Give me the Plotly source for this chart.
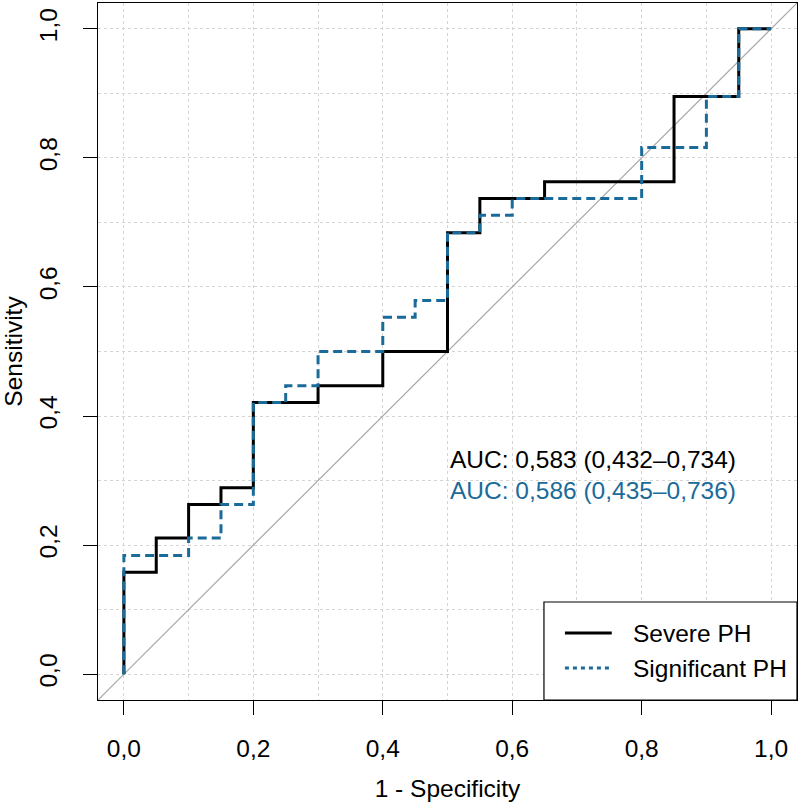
import plotly.graph_objects as go

# ROC step curves: (1 - specificity, sensitivity) corner points
severe_fpr = [0.00, 0.00, 0.05, 0.10, 0.15, 0.20, 0.30, 0.40, 0.50, 0.55, 0.65, 0.85, 0.95, 1.00]
severe_tpr = [0.000, 0.158, 0.211, 0.263, 0.289, 0.421, 0.447, 0.500, 0.684, 0.737, 0.763, 0.895, 1.000, 1.000]

signif_fpr = [0.00, 0.00, 0.10, 0.15, 0.20, 0.25, 0.30, 0.40, 0.45, 0.50, 0.55, 0.60, 0.80, 0.90, 0.95, 1.00]
signif_tpr = [0.000, 0.184, 0.211, 0.263, 0.421, 0.447, 0.500, 0.553, 0.579, 0.684, 0.711, 0.737, 0.816, 0.895, 1.000, 1.000]

diag = [-0.04, 1.04]

series_names = ["Severe PH", "Significant PH"]
auc_labels = ["AUC: 0,583 (0,432–0,734)", "AUC: 0,586 (0,435–0,736)"]

BLACK = "#000000"
BLUE = "#1B6B9A"
FONT = "Liberation Sans, Arial, sans-serif"
FS = 24.5

fig = go.Figure()

fig.add_trace(go.Scatter(x=diag, y=diag, mode="lines",
                         line=dict(color="#A8A8A8", width=1.2), hoverinfo="skip"))
fig.add_trace(go.Scatter(x=severe_fpr, y=severe_tpr, mode="lines", name=series_names[0],
                         line=dict(color=BLACK, width=3, shape="hv")))
fig.add_trace(go.Scatter(x=signif_fpr, y=signif_tpr, mode="lines", name=series_names[1],
                         line=dict(color=BLUE, width=3, shape="hv", dash="9px,5px")))

# AUC text
fig.add_annotation(x=0.5, y=0.333, text=auc_labels[0], showarrow=False, xanchor="left",
                   font=dict(size=FS, color=BLACK, family=FONT))
fig.add_annotation(x=0.5, y=0.285, text=auc_labels[1], showarrow=False, xanchor="left",
                   font=dict(size=FS, color=BLUE, family=FONT))

# hand-drawn legend box in the bottom-right corner (R style)
fig.add_shape(type="rect", xref="paper", yref="paper", x0=0.638, x1=1.0, y0=0.0, y1=0.1406,
              line=dict(color="black", width=1.2), fillcolor="white", layer="above")
for yy, col, dash, name in [(0.0961, BLACK, "solid", series_names[0]),
                            (0.0459, BLUE, "4px,4px", series_names[1])]:
    fig.add_shape(type="line", xref="paper", yref="paper", x0=0.668, x1=0.735, y0=yy, y1=yy,
                  line=dict(color=col, width=3, dash=dash), layer="above")
    fig.add_annotation(xref="paper", yref="paper", x=0.762, y=yy, text=name, showarrow=False,
                       xanchor="left", yanchor="middle",
                       font=dict(size=FS, color=BLACK, family=FONT))

axis_common = dict(
    range=[-0.04, 1.04], dtick=0.2, tick0=0, tickformat=".1f",
    ticks="outside", ticklen=14, tickwidth=1, tickcolor="black",
    showline=True, linecolor="black", linewidth=1.2, mirror=True,
    showgrid=True, gridcolor="#D4D4D4", griddash="dot", gridwidth=1,
    minor=dict(dtick=0.1, tick0=0, showgrid=True, gridcolor="#D4D4D4", griddash="dot", ticks=""),
    zeroline=False, tickfont=dict(size=FS, color=BLACK, family=FONT),
)

fig.update_xaxes(**axis_common, ticklabelstandoff=12,
                 title=dict(text="1 - Specificity", font=dict(size=FS, color=BLACK, family=FONT), standoff=19))
fig.update_yaxes(**axis_common, tickangle=-90, ticklabelstandoff=16,
                 title=dict(text="Sensitivity", font=dict(size=FS, color=BLACK, family=FONT), standoff=12))

fig.update_layout(
    width=800, height=805,
    margin=dict(l=98, r=3, t=3, b=105),
    plot_bgcolor="white", paper_bgcolor="white",
    showlegend=False, separators=",.",
    font=dict(family=FONT, color=BLACK),
)

fig.write_html("out.html", config={"displayModeBar": False},
               post_script="document.body.style.margin='0';")
